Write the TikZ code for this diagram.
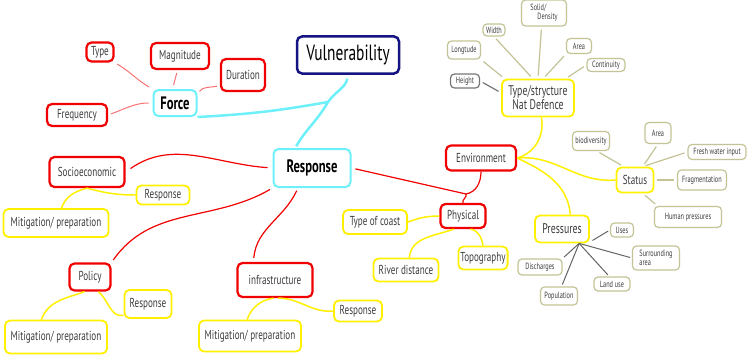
\documentclass[tikz,border=0pt]{standalone}
\usepackage{fontspec}
\newfontfamily\mapfont{PT Sans}[FakeStretch=0.7]
\newcommand\mmsize[1]{\fontsize{#1}{#1}\selectfont}
\definecolor{vulnblue}{RGB}{20,20,130}
\definecolor{aqua}{RGB}{110,240,250}
\definecolor{mapred}{RGB}{240,0,0}
\definecolor{mapyellow}{RGB}{255,240,0}
\definecolor{khaki}{RGB}{195,195,150}
\definecolor{inkgrey}{RGB}{60,60,60}
\tikzset{
  topic/.style={rounded corners=5pt, align=center, text=inkgrey, inner sep=2pt, font=\mapfont\mmsize{13}},
  mainbox/.style={topic, draw=vulnblue, line width=2.5pt, text=black, font=\mapfont\mmsize{22}},
  hubbox/.style={topic, draw=aqua, line width=2pt, text=black, font=\mapfont\bfseries\mmsize{18}},
  redbox/.style={topic, draw=mapred, line width=2.2pt},
  yellowbox/.style={topic, draw=mapyellow, line width=1.8pt},
  leafbox/.style={topic, draw=khaki, line width=1.2pt, rounded corners=4pt, inner sep=1.5pt, font=\mapfont\mmsize{9}},
  aqualink/.style={draw=aqua, line width=2.5pt},
  redlink/.style={draw=mapred, line width=1.2pt},
  pinklink/.style={draw=mapred!55, line width=1pt, shorten <=4pt, shorten >=3pt},
  yellowlink/.style={draw=mapyellow, line width=1.5pt},
  khakilink/.style={draw=khaki, line width=1.2pt, shorten <=3pt, shorten >=3pt},
  greylink/.style={draw=inkgrey!80, line width=1pt, shorten >=2pt},
}

\begin{document}
\begin{tikzpicture}[x=1pt,y=1pt]
\useasboundingbox (0,0) rectangle (754,-361);

% main topic and hub
\node[mainbox, minimum width=102pt, minimum height=37pt] (vuln) at (348,-55) {Vulnerability};
\node[hubbox, minimum width=77pt, minimum height=38pt] (resp) at (312,-168) {Response};

% force
\node[hubbox, minimum width=43pt, minimum height=26pt] (force) at (175,-103) {Force};
\node[redbox, minimum width=27pt, minimum height=19pt] (type) at (100,-52) {Type};
\node[redbox, minimum width=58pt, minimum height=26pt] (magn) at (180,-56) {Magnitude};
\node[redbox, minimum width=44pt, minimum height=32pt] (dur) at (243,-75) {Duration};
\node[redbox, minimum width=60pt, minimum height=22pt] (freq) at (77,-115) {Frequency};

% social side
\node[redbox, minimum width=75pt, minimum height=30pt] (soc) at (87,-172) {Socioeconomic};
\node[yellowbox, minimum width=53pt, minimum height=19pt] (sresp) at (163,-195) {Response};
\node[yellowbox, minimum width=105pt, minimum height=28pt] (mit1) at (56,-223) {Mitigation/ preparation};
\node[redbox, minimum width=41pt, minimum height=27pt] (pol) at (90,-277) {Policy};
\node[yellowbox, minimum width=47pt, minimum height=28pt] (presp) at (148,-304) {Response};
\node[yellowbox, minimum width=102pt, minimum height=33pt] (mit2) at (56,-337) {Mitigation/ preparation};
\node[redbox, minimum width=75pt, minimum height=34pt] (infra) at (275,-280) {infrastructure};
\node[yellowbox, minimum width=48pt, minimum height=21pt] (iresp) at (358,-311) {Response};
\node[yellowbox, minimum width=102pt, minimum height=31pt] (mit3) at (250,-336) {Mitigation/ preparation};

% environment side
\node[redbox, minimum width=70pt, minimum height=25pt] (env) at (481,-158) {Environment};
\node[redbox, minimum width=45pt, minimum height=24pt] (phys) at (463,-216) {Physical};
\node[yellowbox, minimum width=64pt, minimum height=24pt] (coast) at (375,-222) {Type of coast};
\node[yellowbox, minimum width=65pt, minimum height=23pt] (river) at (406,-270) {River distance};
\node[yellowbox, minimum width=45pt, minimum height=23pt] (topo) at (483,-258) {Topography};
\node[yellowbox, minimum width=72pt, minimum height=37pt, inner sep=1pt, font=\mapfont\mmsize{14}] (typ) at (538,-98) {Type/strycture\\Nat Defence};
\node[leafbox, draw=inkgrey!70, minimum width=29pt, minimum height=14pt] (height) at (465,-81) {Height};
\node[leafbox, minimum width=33pt, minimum height=18pt] (long) at (464,-50) {Longtude};
\node[leafbox, minimum width=22pt, minimum height=12pt] (width) at (494,-30) {Width};
\node[leafbox, minimum width=45pt, minimum height=26pt, align=left] (solid) at (544,-13) {Solid/\\\hspace*{7pt}Density};
\node[leafbox, minimum width=25pt, minimum height=15pt] (area1) at (579,-46) {Area};
\node[leafbox, minimum width=38pt, minimum height=13pt] (cont) at (606,-65) {Continuity};
\node[yellowbox, minimum width=37pt, minimum height=25pt] (status) at (635,-180) {Status};
\node[leafbox, minimum width=37pt, minimum height=19pt] (biod) at (591,-141) {biodiversity};
\node[leafbox, minimum width=26pt, minimum height=21pt] (area2) at (658,-133) {Area};
\node[leafbox, minimum width=58pt, minimum height=15pt] (fresh) at (717,-152) {Fresh water input};
\node[leafbox, minimum width=49pt, minimum height=20pt] (frag) at (702,-180) {Fragmentation};
\node[leafbox, minimum width=67pt, minimum height=21pt] (hum) at (688,-217) {Human pressures};
\node[yellowbox, minimum width=54pt, minimum height=27pt, font=\mapfont\mmsize{14}] (pres) at (562,-229) {Pressures};
\node[leafbox, minimum width=23pt, minimum height=14pt] (uses) at (622,-230) {Uses};
\node[leafbox, minimum width=47pt, minimum height=24pt, align=left] (surr) at (656,-258) {Surrounding\\area};
\node[leafbox, minimum width=44pt, minimum height=16pt] (disch) at (540,-267) {Discharges};
\node[leafbox, minimum width=36pt, minimum height=14pt] (land) at (612,-284) {Land use};
\node[leafbox, minimum width=37pt, minimum height=18pt] (popu) at (559,-296) {Population};

% cyan links
\coordinate (vhub) at (328,-102);
\draw[aqualink, shorten <=4pt] (vuln.south) to[out=-100,in=55] (vhub);
\draw[aqualink] (vhub) to[out=-170,in=3] (force.south east);
\draw[aqualink, shorten >=2pt] (vhub) to[out=-120,in=60] (resp.130);

% force leaves
\draw[pinklink] (force.north west) to[out=150,in=-30] (type.south east);
\draw[pinklink] (force.100) -- (magn.260);
\draw[pinklink] (force.20) to[out=60,in=190] (dur.205);
\draw[pinklink] (force.west) to[out=180,in=20] (freq.east);

% red links from response
\draw[redlink, shorten <=5pt, shorten >=6pt] (resp.west) to[out=176,in=35] (soc.east);
\draw[redlink, shorten <=3pt, shorten >=3pt] (resp.south west) to[out=-150,in=55] (pol.north east);
\draw[redlink, shorten <=3pt, shorten >=4pt] (resp.235) to[out=-115,in=85] (infra.140);
\coordinate (ehub) at (466,-194);
\draw[redlink, shorten <=4pt] (resp.east) -- (ehub);
\draw[redlink] (ehub) to[out=10,in=-90] (env.south);
\draw[redlink] (ehub) to[out=-70,in=110] (phys.north);

% yellow links
\draw[yellowlink] (soc.south) to[out=-15,in=180] (sresp.west);
\draw[yellowlink] (soc.south) to[out=195,in=70] (mit1.70);
\draw[yellowlink] (pol.-60) to[out=-40,in=190] (presp.205);
\draw[yellowlink] (pol.250) to[out=200,in=70] (mit2.130);
\draw[yellowlink] (infra.-80) to[out=0,in=185] (iresp.west);
\draw[yellowlink] (infra.-95) to[out=190,in=70] (mit3.100);
\draw[yellowlink] (phys.west) to[out=180,in=20] (coast.east);
\draw[yellowlink] (phys.-125) to[out=200,in=85] (river.75);
\draw[yellowlink] (phys.-60) to[out=-10,in=100] (topo.north);
\draw[yellowlink] (env.east) to[out=15,in=-80] (typ.-80);
\draw[yellowlink] (env.east) to[out=5,in=185] (status.west);
\draw[yellowlink] (env.east) to[out=-25,in=95] (pres.60);

% khaki links
\draw[khakilink, draw=inkgrey!70] (height.east) -- (typ.172);
\draw[khakilink] (long.south east) -- (typ.150);
\draw[khakilink] (width.south) -- (typ.105);
\draw[khakilink] (solid.260) -- (typ.90);
\draw[khakilink] (area1.south west) -- (typ.75);
\draw[khakilink] (cont.west) -- (typ.35);
\draw[khakilink] (biod.-60) -- (status.130);
\draw[khakilink] (area2.south) -- (status.60);
\draw[khakilink] (fresh.west) -- (status.60);
\draw[khakilink] (status.east) -- (frag.west);
\draw[khakilink] (status.-60) -- (hum.160);

% pressures leaves
\draw[greylink, shorten <=3pt] (pres.-25) -- (uses.west);
\draw[greylink] (pres.-40) -- (surr.west);
\draw[greylink] (pres.-40) -- (land.110);
\draw[greylink] (pres.-40) -- (popu.75);
\draw[greylink] (pres.-40) -- (disch.north east);
\end{tikzpicture}
\end{document}
